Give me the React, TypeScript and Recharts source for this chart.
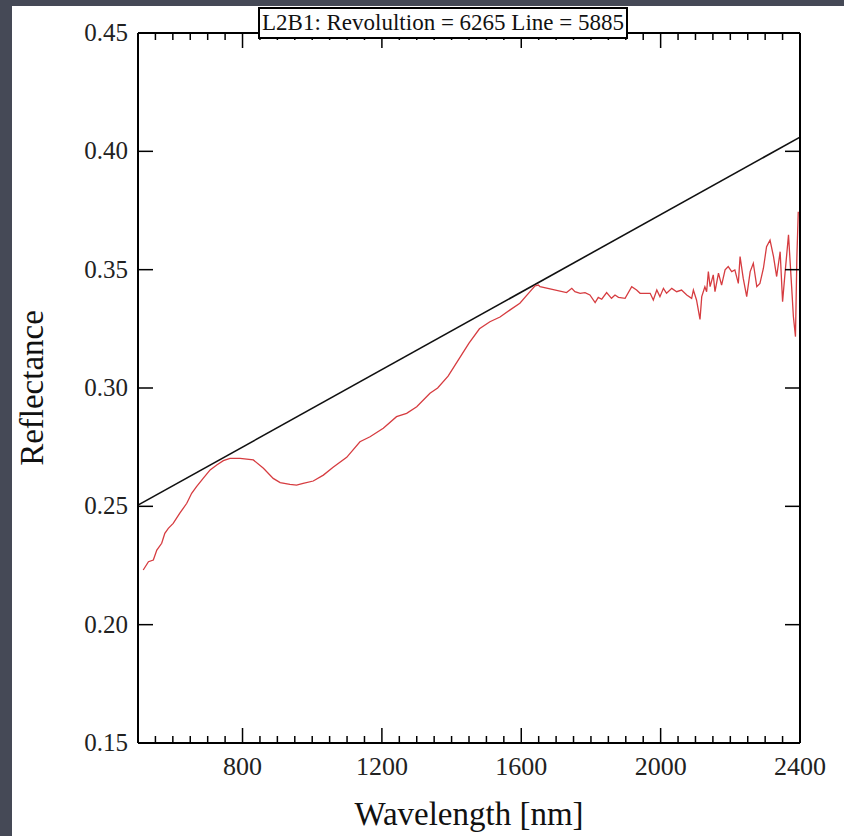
import React from 'react';
import { LineChart, Line, XAxis, YAxis } from 'recharts';

// measured spectrum (red)
const spectrumNm = [
  515, 530, 544, 554, 568, 577, 587, 601, 620, 640, 654, 668, 687, 707, 726, 745, 764, 793,
  831, 860, 888, 908, 936, 955, 974, 1003, 1032, 1060, 1099, 1137, 1166, 1204, 1242, 1271,
  1300, 1338, 1360, 1390, 1420, 1450, 1480, 1510, 1539, 1568, 1596, 1625, 1639, 1649, 1654,
  1730, 1745, 1754, 1769, 1783, 1797, 1812, 1821, 1831, 1845, 1859, 1869, 1879, 1898, 1917,
  1931, 1941, 1970, 1979, 1989, 1998, 2008, 2017, 2032, 2046, 2060, 2075, 2089, 2094, 2103,
  2113, 2118, 2127, 2132, 2137, 2142, 2151, 2156, 2166, 2175, 2185, 2194, 2204, 2213, 2223,
  2228, 2237, 2247, 2257, 2266, 2276, 2285, 2295, 2304, 2314, 2324, 2333, 2343, 2350, 2357,
  2367, 2376, 2381, 2387, 2391, 2395,
];
const spectrumRefl = [
  0.2231, 0.2266, 0.2273, 0.2315, 0.2344, 0.2386, 0.2407, 0.2428, 0.2471, 0.2513, 0.2555,
  0.2583, 0.2618, 0.2654, 0.2675, 0.2693, 0.2703, 0.2703, 0.2696, 0.2661, 0.2618, 0.26,
  0.2593, 0.259, 0.2597, 0.2607, 0.2632, 0.2665, 0.2707, 0.2773, 0.2794, 0.283, 0.2879,
  0.2893, 0.2921, 0.2978, 0.3, 0.305, 0.312, 0.319, 0.325, 0.328, 0.33, 0.333, 0.3358,
  0.3407, 0.3431, 0.3435, 0.3428, 0.3403, 0.3421, 0.3407, 0.34, 0.3403, 0.3393, 0.3361,
  0.3383, 0.3375, 0.3403, 0.3379, 0.3393, 0.3383, 0.3379, 0.3428, 0.3414, 0.34, 0.34,
  0.3372, 0.3414, 0.3386, 0.3421, 0.34, 0.3421, 0.3407, 0.3414, 0.3393, 0.3379, 0.3414,
  0.3372, 0.329, 0.3386, 0.3428, 0.3407, 0.3492, 0.3428, 0.3478, 0.3407, 0.3485, 0.3435,
  0.3499, 0.3513, 0.3492, 0.3499, 0.3442, 0.3555, 0.3464, 0.3386, 0.3492, 0.3527, 0.3428,
  0.3442, 0.3506, 0.3597, 0.3625, 0.3555, 0.3471, 0.3576, 0.3365, 0.3485, 0.3647, 0.3428,
  0.3302, 0.3217, 0.355, 0.3745,
];

// straight continuum (black)
const continuumNm = [500, 2400];
const continuumRefl = [0.2505, 0.406];

const xMajor = [800, 1200, 1600, 2000, 2400];
const yTicks = [0.15, 0.2, 0.25, 0.3, 0.35, 0.4, 0.45];

const xTicks: number[] = [];
for (let v = 550; v <= 2400; v += 50) xTicks.push(v);

const spectrum = spectrumNm.map((nm, i) => ({ nm, r: spectrumRefl[i] }));
const continuum = continuumNm.map((nm, i) => ({ nm, r: continuumRefl[i] }));

const W = 844;
const H = 836;
const FONT = '"Liberation Serif", "Times New Roman", serif';

const BottomTick = ({ x, y, payload }: any) => {
  const major = xMajor.includes(payload.value);
  return (
    <g>
      {payload.value < 2400 && (
        <line x1={x} x2={x} y1={y} y2={y - (major ? 15 : 7)} stroke="#000" strokeWidth={1.5} />
      )}
      {major && (
        <text x={x} y={y + 32} textAnchor="middle" fontSize={26} fontFamily={FONT} fill="#222">
          {payload.value}
        </text>
      )}
    </g>
  );
};

const TopTick = ({ x, y, payload }: any) => {
  const major = xMajor.includes(payload.value);
  if (payload.value >= 2400) return <g />;
  return <line x1={x} x2={x} y1={y} y2={y + (major ? 15 : 7)} stroke="#000" strokeWidth={1.5} />;
};

const LeftTick = ({ x, y, payload }: any) => {
  const edge = payload.value <= 0.15 || payload.value >= 0.45;
  return (
    <g>
      {!edge && <line x1={x} x2={x + 15} y1={y} y2={y} stroke="#000" strokeWidth={1.5} />}
      <text x={x - 10} y={y + 8} textAnchor="end" fontSize={25} fontFamily={FONT} fill="#222">
        {payload.value.toFixed(2)}
      </text>
    </g>
  );
};

const RightTick = ({ x, y, payload }: any) => {
  const edge = payload.value <= 0.15 || payload.value >= 0.45;
  if (edge) return <g />;
  return <line x1={x} x2={x - 15} y1={y} y2={y} stroke="#000" strokeWidth={1.5} />;
};

export default function App() {
  const axisLine = { stroke: '#000', strokeWidth: 2 };
  return (
    <div style={{ position: 'fixed', left: 0, top: 0, width: W, height: H, background: '#454956', overflow: 'hidden' }}>
      <div style={{ position: 'absolute', left: 12, top: 6, width: W - 12, height: H - 6, background: '#fff' }} />
      <div style={{ position: 'absolute', left: 0, top: 0 }}>
        <LineChart width={W} height={H} margin={{ top: 23, right: 34, bottom: 33, left: 38 }}>
          <XAxis
            xAxisId="bottom"
            type="number"
            dataKey="nm"
            domain={[500, 2400]}
            ticks={xTicks}
            interval={0}
            height={60}
            tickSize={0}
            tickMargin={0}
            axisLine={axisLine}
            tickLine={false}
            tick={(p: any) => <BottomTick {...p} />}
            allowDataOverflow
          />
          <XAxis
            xAxisId="top"
            orientation="top"
            type="number"
            dataKey="nm"
            domain={[500, 2400]}
            ticks={xTicks}
            interval={0}
            height={10}
            tickSize={0}
            tickMargin={0}
            axisLine={axisLine}
            tickLine={false}
            tick={(p: any) => <TopTick {...p} />}
            allowDataOverflow
          />
          <YAxis
            yAxisId="left"
            type="number"
            domain={[0.15, 0.45]}
            ticks={yTicks}
            interval={0}
            width={100}
            tickSize={0}
            tickMargin={0}
            axisLine={axisLine}
            tickLine={false}
            tick={(p: any) => <LeftTick {...p} />}
            allowDataOverflow
          />
          <YAxis
            yAxisId="right"
            orientation="right"
            type="number"
            domain={[0.15, 0.45]}
            ticks={yTicks}
            interval={0}
            width={10}
            tickSize={0}
            tickMargin={0}
            axisLine={axisLine}
            tickLine={false}
            tick={(p: any) => <RightTick {...p} />}
            allowDataOverflow
          />
          <Line
            data={continuum}
            xAxisId="bottom"
            yAxisId="left"
            dataKey="r"
            type="linear"
            stroke="#111"
            strokeWidth={1.6}
            dot={false}
            isAnimationActive={false}
          />
          <Line
            data={spectrum}
            xAxisId="bottom"
            yAxisId="left"
            dataKey="r"
            type="linear"
            stroke="#d63c40"
            strokeWidth={1.3}
            dot={false}
            isAnimationActive={false}
          />
        </LineChart>
      </div>
      <div
        style={{
          position: 'absolute', left: 258, top: 7, width: 370, height: 32, boxSizing: 'border-box',
          border: '2px solid #000', background: '#fff', fontFamily: FONT, fontSize: 23, color: '#111',
          display: 'flex', alignItems: 'center', justifyContent: 'center', whiteSpace: 'nowrap',
        }}
      >
        L2B1: Revolultion = 6265 Line = 5885
      </div>
      <div
        style={{
          position: 'absolute', left: 0, width: W, top: 795, textAlign: 'center', paddingLeft: 94,
          boxSizing: 'border-box', fontFamily: FONT, fontSize: 33, color: '#111', lineHeight: '38px',
        }}
      >
        Wavelength [nm]
      </div>
      <div
        style={{
          position: 'absolute', left: 32, top: 388, transform: 'translate(-50%, -50%) rotate(-90deg)',
          fontFamily: FONT, fontSize: 33, color: '#111', whiteSpace: 'nowrap', lineHeight: '38px',
        }}
      >
        Reflectance
      </div>
    </div>
  );
}
